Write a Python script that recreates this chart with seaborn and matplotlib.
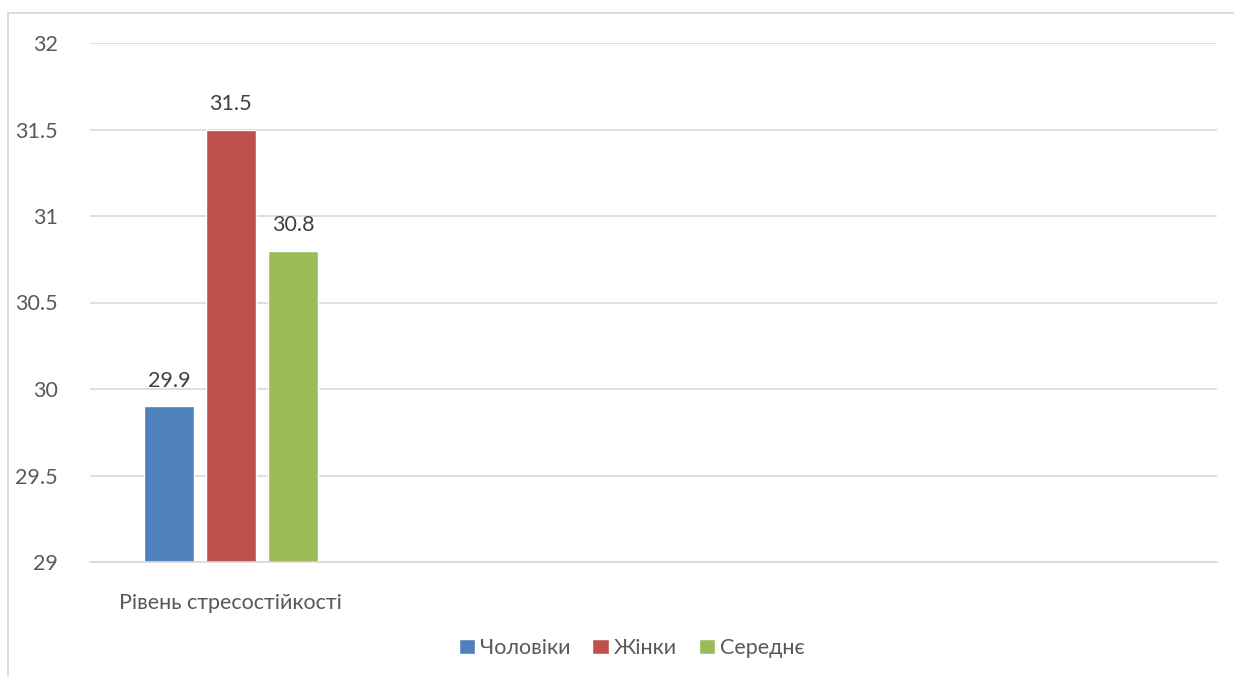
import matplotlib
matplotlib.use("Agg")
import matplotlib.pyplot as plt
from matplotlib.patches import Rectangle
import seaborn as sns
import pandas as pd

# Data
categories = ["Рівень стресостійкості"]
series = ["Чоловіки", "Жінки", "Середнє"]
values = [29.9, 31.5, 30.8]
colors = ["#4F81BD", "#C0504D", "#9BBB59"]
y_ticks = [29, 29.5, 30, 30.5, 31, 31.5, 32]

df = pd.DataFrame({
    "category": categories * len(series),
    "series": series,
    "value": values,
})

sns.set_theme(style="white")
plt.rcParams["font.family"] = ["Lato", "DejaVu Sans"]
text_color = "#595959"
grid_color = "#D9D9D9"
fs = 15.5

W, H = 1234, 677
fig = plt.figure(figsize=(W / 100, H / 100), dpi=100)

# chart frame
fig.patches.append(Rectangle((8 / W, -0.05), 1.2, 1 - 13 / H + 0.05,
                             transform=fig.transFigure, fill=False,
                             edgecolor=grid_color, linewidth=1.3))

ax = fig.add_axes([90 / W, 115 / H, (1217 - 90) / W, (562 - 43) / H])

sns.barplot(data=df, x="category", y="value", hue="series",
            palette=colors, width=0.66, gap=0.19, ax=ax,
            saturation=1, legend=True)

ax.set_ylim(29, 32)
ax.set_xlim(-0.5, 3.5)
ax.set_yticks(y_ticks)
ax.set_yticklabels([f"{t:g}" for t in y_ticks])
ax.yaxis.grid(True, color=grid_color, linewidth=1.2)
ax.set_axisbelow(True)
for s in ["top", "right", "left"]:
    ax.spines[s].set_visible(False)
ax.spines["bottom"].set_color(grid_color)
ax.spines["bottom"].set_linewidth(1.2)
ax.tick_params(axis="both", length=0, labelsize=fs, labelcolor=text_color)
ax.tick_params(axis="y", pad=23)
ax.tick_params(axis="x", pad=22)
ax.set_xlabel("")
ax.set_ylabel("")

for cont in ax.containers:
    ax.bar_label(cont, fmt="%.1f", padding=11, fontsize=fs, color="#404040")

handles, labels = ax.get_legend_handles_labels()
ax.get_legend().remove()
fig.legend(handles, labels, loc="center", bbox_to_anchor=(632 / W, 1 - 648 / H),
           ncol=3, frameon=False, fontsize=fs, labelcolor=text_color,
           handlelength=0.75, handleheight=0.75, handletextpad=0.25,
           columnspacing=1.0)

fig.savefig("out.png", dpi=100, facecolor="white")
